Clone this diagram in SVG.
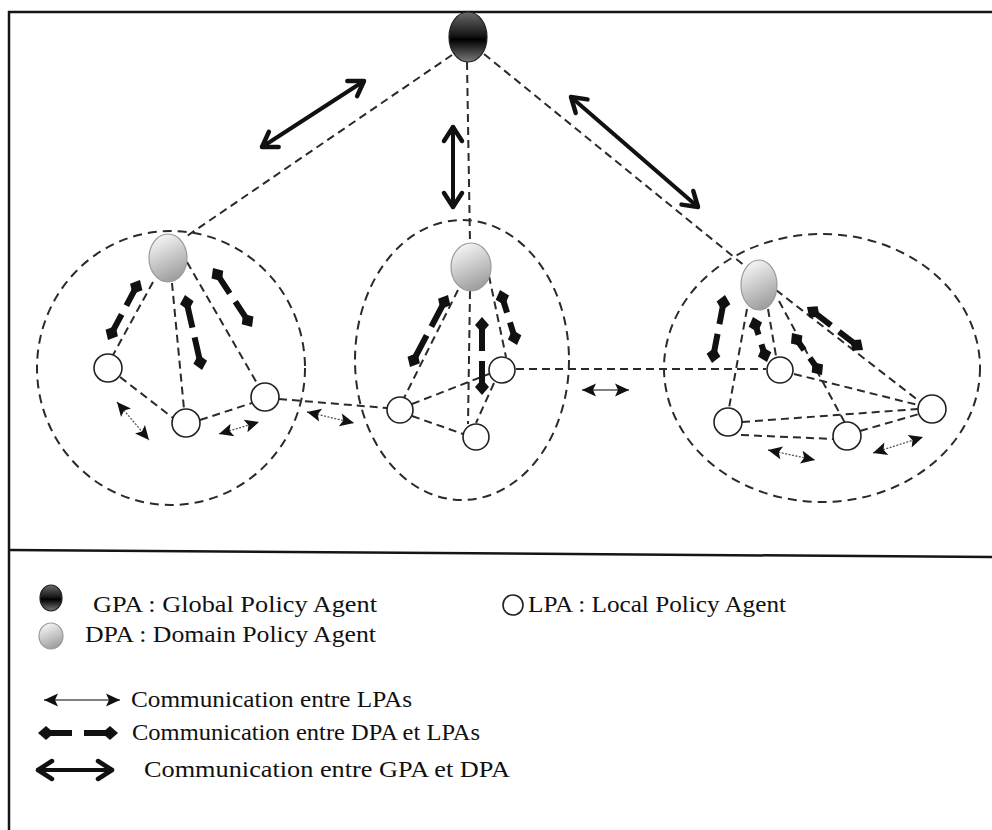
<svg xmlns="http://www.w3.org/2000/svg" width="992" height="830" viewBox="0 0 992 830">
  <style>
    .frame { stroke: #151515; stroke-width: 2.5; fill: none; }
    .link { stroke: #2a2a2a; stroke-width: 2; stroke-dasharray: 8 5; fill: none; }
    .domain { stroke: #2a2a2a; stroke-width: 2; stroke-dasharray: 9 6; fill: none; }
    .gpa { fill: url(#gpaFill); stroke: #222; stroke-width: 1.2; }
    .dpa { fill: url(#dpaFill); stroke: #9a9a9a; stroke-width: 1.2; }
    .lpa { fill: #fff; stroke: #222; stroke-width: 1.6; }
    .gd { stroke: #111; stroke-width: 4; fill: none; stroke-linecap: round; marker-start: url(#openHead); marker-end: url(#openHead); }
    .dl { stroke: #111; stroke-width: 6; fill: none; marker-start: url(#kite); marker-end: url(#kite); }
    .ll { stroke: #555; stroke-width: 1.3; fill: none; marker-start: url(#tri); marker-end: url(#tri); }
    .ll.dot { stroke-dasharray: 2 1.5; }
    text { font-family: "Liberation Serif", "Times New Roman", serif; font-size: 24px; fill: #111; }
  </style>
  <defs>
    <linearGradient id="gpaFill" x1="0" y1="0" x2="0" y2="1">
      <stop offset="0" stop-color="#6a6a6a"/>
      <stop offset="0.45" stop-color="#1a1a1a"/>
      <stop offset="0.55" stop-color="#000"/>
      <stop offset="1" stop-color="#7a7a7a"/>
    </linearGradient>
    <linearGradient id="dpaFill" x1="0.2" y1="0" x2="0.6" y2="1">
      <stop offset="0" stop-color="#fafafa"/>
      <stop offset="1" stop-color="#9c9c9c"/>
    </linearGradient>
    <!-- open chevron head for GPA-DPA exchanges -->
    <marker id="openHead" markerUnits="userSpaceOnUse" orient="auto-start-reverse" refX="0" refY="0" markerWidth="30" markerHeight="30" overflow="visible">
      <path d="M-14,-9 L0,0 L-14,9" fill="none" stroke="#111" stroke-width="4.5" stroke-linecap="round" stroke-linejoin="round"/>
    </marker>
    <!-- filled kite head for DPA-LPA exchanges -->
    <marker id="kite" markerUnits="userSpaceOnUse" orient="auto-start-reverse" refX="0" refY="0" markerWidth="30" markerHeight="30" overflow="visible">
      <path d="M0,0 L-8,-7 L-16,0 L-8,7 Z" fill="#111"/>
    </marker>
    <!-- small triangle head for LPA-LPA exchanges -->
    <marker id="tri" markerUnits="userSpaceOnUse" orient="auto-start-reverse" refX="0" refY="0" markerWidth="20" markerHeight="20" overflow="visible">
      <path d="M0,0 L-14,-6.5 L-11,0 L-14,6.5 Z" fill="#111"/>
    </marker>
  </defs>

  <rect width="992" height="830" fill="#fff"/>

  <!-- frame and divider -->
  <g id="frame">
    <line class="frame" x1="8" y1="12" x2="992" y2="12"/>
    <line class="frame" x1="9" y1="11" x2="9" y2="830"/>
    <line class="frame" x1="9" y1="550" x2="992" y2="557"/>
  </g>

  <!-- domain boundaries -->
  <g id="domains">
    <ellipse id="domain-left" class="domain" cx="171" cy="368" rx="134" ry="137"/>
    <ellipse id="domain-middle" class="domain" cx="462" cy="360" rx="107" ry="140"/>
    <ellipse id="domain-right" class="domain" cx="822" cy="368" rx="158" ry="134"/>
  </g>

  <g id="connectors">
    <!-- dashed links -->
    <path class="link" d="M452,55 L184,238"/>
    <path class="link" d="M467,62 L470,243"/>
    <path class="link" d="M484,54 L745,266"/>

    <path class="link" d="M153,282 L113,355"/>
    <path class="link" d="M172,283 L184,409"/>
    <path class="link" d="M187,262 L258,385"/>
    <path class="link" d="M120,377 L173,418"/>
    <path class="link" d="M200,420 L252,403"/>
    <path class="link" d="M279,399 L387,408"/>

    <path class="link" d="M458,290 L404,398"/>
    <path class="link" d="M470,291 L468,424"/>
    <path class="link" d="M489,276 L506,357"/>
    <path class="link" d="M412,404 L489,374"/>
    <path class="link" d="M412,416 L463,434"/>
    <path class="link" d="M494,383 L476,423"/>
    <path class="link" d="M516,369 L766,369"/>

    <path class="link" d="M747,309 L729,408"/>
    <path class="link" d="M768,309 L776,356"/>
    <path class="link" d="M779,301 L845,423"/>
    <path class="link" d="M776,290 L919,401"/>
    <path class="link" d="M794,374 L918,405"/>
    <path class="link" d="M742,422 L918,409"/>
    <path class="link" d="M741,435 L834,439"/>
    <path class="link" d="M860,431 L919,414"/>

    <!-- GPA-DPA exchanges -->
    <path class="gd" d="M262,147 L364,81"/>
    <path class="gd" d="M453,127 L453,207"/>
    <path class="gd" d="M571,97 L698,207"/>

    <!-- DPA-LPA exchanges -->
    <path class="dl" style="stroke-dasharray:0 11 18 10 18 100" d="M140,280 L108,340"/>
    <path class="dl" style="stroke-dasharray:0 11 22.5 10 22.5 100" d="M185,295 L202,370"/>
    <path class="dl" style="stroke-dasharray:0 11 19.4 10 19.4 100" d="M213,268 L252,327"/>
    <path class="dl" style="stroke-dasharray:0 11 24.7 10 24.7 100" d="M448,295 L410,367"/>
    <path class="dl" style="stroke-dasharray:0 11 23 10 23 100" d="M482,317 L482,395"/>
    <path class="dl" style="stroke-dasharray:0 11 12.8 10 12.8 100" d="M500,290 L517,345"/>
    <path class="dl" style="stroke-dasharray:0 11 18.6 10 18.6 100" d="M725,295 L712,363"/>
    <path class="dl" style="stroke-dasharray:0 11 7.6 10 7.6 100" d="M753,317 L767,362"/>
    <path class="dl" style="stroke-dasharray:0 11 9.8 10 9.8 100" d="M792,333 L822,375"/>
    <path class="dl" style="stroke-dasharray:0 11 19.3 10 19.3 100" d="M807,307 L863,350"/>

    <!-- LPA-LPA exchanges -->
    <path class="ll dot" d="M117,402 L149,440"/>
    <path class="ll dot" d="M219,434 L259,422"/>
    <path class="ll dot" d="M307,412 L354,423"/>
    <path class="ll" d="M582,390 L629,390"/>
    <path class="ll dot" d="M768,450 L815,460"/>
    <path class="ll dot" d="M873,453 L923,437"/>
  </g>

  <!-- agents -->
  <g id="gpa"><ellipse class="gpa" cx="468" cy="37" rx="19" ry="25"/></g>

  <g id="dpa-left"><ellipse class="dpa" cx="168" cy="258" rx="19" ry="24"/></g>
  <g id="dpa-middle"><ellipse class="dpa" cx="471" cy="267" rx="20" ry="24"/></g>
  <g id="dpa-right"><ellipse class="dpa" cx="759" cy="285" rx="18" ry="25"/></g>

  <g id="lpa-l1"><circle class="lpa" cx="108" cy="368" r="14"/></g>
  <g id="lpa-l2"><circle class="lpa" cx="186" cy="423" r="14"/></g>
  <g id="lpa-l3"><circle class="lpa" cx="265" cy="397" r="14"/></g>

  <g id="lpa-m1"><circle class="lpa" cx="400" cy="410" r="13"/></g>
  <g id="lpa-m2"><circle class="lpa" cx="476" cy="437" r="13"/></g>
  <g id="lpa-m3"><circle class="lpa" cx="502" cy="370" r="13"/></g>

  <g id="lpa-r1"><circle class="lpa" cx="780" cy="370" r="13"/></g>
  <g id="lpa-r2"><circle class="lpa" cx="728" cy="422" r="14"/></g>
  <g id="lpa-r3"><circle class="lpa" cx="847" cy="436" r="14"/></g>
  <g id="lpa-r4"><circle class="lpa" cx="932" cy="409" r="14"/></g>

  <!-- legend -->
  <g id="legend">
    <ellipse class="gpa" cx="51" cy="598" rx="11" ry="13"/>
    <text x="93" y="612" textLength="284" lengthAdjust="spacingAndGlyphs">GPA : Global Policy Agent</text>
    <circle class="lpa" cx="513" cy="605" r="10" stroke-width="1.3"/>
    <text x="528" y="612" textLength="258" lengthAdjust="spacingAndGlyphs">LPA : Local Policy Agent</text>
    <ellipse class="dpa" cx="51" cy="636" rx="12" ry="13"/>
    <text x="85" y="642" textLength="291" lengthAdjust="spacingAndGlyphs">DPA : Domain Policy Agent</text>

    <path class="ll" d="M44,700 L120,700"/>
    <text x="131" y="707" textLength="281" lengthAdjust="spacingAndGlyphs">Communication entre LPAs</text>
    <path class="dl" style="stroke-dasharray:0 11 23 12 23 100" d="M38,733 L118,733"/>
    <text x="132" y="740" textLength="348" lengthAdjust="spacingAndGlyphs">Communication entre DPA et LPAs</text>
    <path class="gd" d="M38,770 L112,770"/>
    <text x="144" y="777" textLength="366" lengthAdjust="spacingAndGlyphs">Communication entre GPA et DPA</text>
  </g>
</svg>
